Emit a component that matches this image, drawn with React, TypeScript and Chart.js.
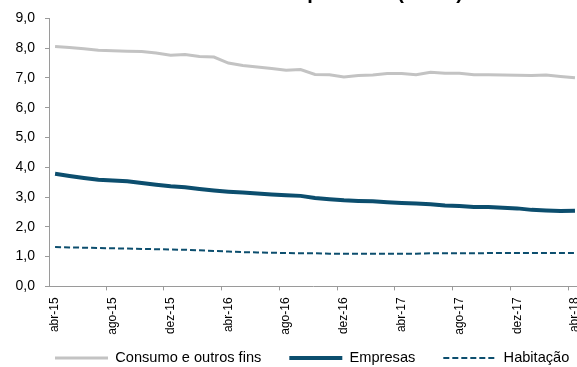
import React, { useEffect, useRef } from 'react';
import { Chart, registerables } from 'chart.js';

Chart.register(...registerables);

const TITLE = 'Taxas médias de empréstimo (em %)';

const months = [
  'abr-15', 'mai-15', 'jun-15', 'jul-15', 'ago-15', 'set-15', 'out-15', 'nov-15', 'dez-15', 'jan-16', 'fev-16', 'mar-16',
  'abr-16', 'mai-16', 'jun-16', 'jul-16', 'ago-16', 'set-16', 'out-16', 'nov-16', 'dez-16', 'jan-17', 'fev-17', 'mar-17',
  'abr-17', 'mai-17', 'jun-17', 'jul-17', 'ago-17', 'set-17', 'out-17', 'nov-17', 'dez-17', 'jan-18', 'fev-18', 'mar-18',
  'abr-18',
];

const consumo = [
  8.06, 8.02, 7.98, 7.93, 7.91, 7.90, 7.89, 7.84, 7.76, 7.79, 7.72, 7.70,
  7.50, 7.42, 7.37, 7.32, 7.26, 7.28, 7.12, 7.11, 7.03, 7.08, 7.10, 7.15,
  7.15, 7.11, 7.19, 7.16, 7.16, 7.11, 7.11, 7.10, 7.09, 7.08, 7.10, 7.05,
  7.01,
];

const empresas = [
  3.78, 3.71, 3.64, 3.58, 3.56, 3.53, 3.47, 3.41, 3.36, 3.33, 3.27, 3.22,
  3.18, 3.15, 3.12, 3.09, 3.06, 3.04, 2.97, 2.93, 2.89, 2.87, 2.86, 2.83,
  2.80, 2.78, 2.76, 2.72, 2.70, 2.67, 2.67, 2.64, 2.62, 2.57, 2.55, 2.53,
  2.54,
];

const habitacao = [
  1.32, 1.31, 1.30, 1.29, 1.28, 1.27, 1.26, 1.25, 1.24, 1.23, 1.21, 1.19,
  1.17, 1.15, 1.14, 1.13, 1.12, 1.11, 1.11, 1.10, 1.10, 1.10, 1.10, 1.10,
  1.10, 1.10, 1.11, 1.11, 1.11, 1.11, 1.12, 1.12, 1.12, 1.12, 1.12, 1.12,
  1.12,
];

const seriesNames = ['Consumo e outros fins', 'Empresas', 'Habitação'];
const yTicks = [0, 1, 2, 3, 4, 5, 6, 7, 8, 9];
const labelEvery = 4;

const FONT = "'Liberation Sans', Arial, Helvetica, sans-serif";
const AXIS = '#9a9a9a';
const GREY = '#c3c3c3';
const BLUE = '#0c4e6e';

const labelIdx = months.map((_, i) => i).filter((i) => i % labelEvery === 0);

export default function App() {
  const ref = useRef<HTMLCanvasElement | null>(null);

  useEffect(() => {
    document.body.style.margin = '0';
    const canvas = ref.current;
    if (!canvas) return;

    const toPts = (arr: number[]) => arr.map((v, i) => ({ x: i, y: v }));

    const tickMarks = {
      id: 'tickMarks',
      afterDraw(chart: any) {
        const xs = chart.scales.x;
        const ctx = chart.ctx;
        ctx.save();
        ctx.strokeStyle = AXIS;
        ctx.lineWidth = 1;
        labelIdx.filter((i) => i > 0).forEach((i) => {
          const px = Math.round(xs.getPixelForValue(i - 0.5)) + 0.5;
          ctx.beginPath();
          ctx.moveTo(px, xs.top);
          ctx.lineTo(px, xs.top + 4);
          ctx.stroke();
        });
        ctx.restore();
      },
    };

    const titlePlugin = {
      id: 'cutTitle',
      afterDraw(chart: any) {
        const ctx = chart.ctx;
        ctx.save();
        ctx.font = `bold 20px ${FONT}`;
        ctx.fillStyle = '#000';
        ctx.textAlign = 'center';
        ctx.textBaseline = 'alphabetic';
        ctx.fillText(TITLE, chart.width / 2, -1);
        ctx.restore();
      },
    };

    const legendPlace = {
      id: 'legendPlace',
      afterLayout(chart: any) {
        const lg = chart.legend;
        if (!lg || !lg.lineWidths) return;
        const pad = lg.options.labels.padding;
        const fs = lg.options.labels.font.size;
        const cur = (lg.left + pad + lg.right - lg.lineWidths[0]) / 2;
        const dx = 55 - cur;
        lg.left += dx;
        lg.right += dx;
        const dy = 358 - pad - fs / 2 - lg.top;
        lg.top += dy;
        lg.bottom += dy;
      },
    };

    const chart = new Chart(canvas, {
      type: 'line',
      data: {
        datasets: [
          {
            label: seriesNames[0],
            data: toPts(consumo),
            borderColor: GREY,
            backgroundColor: GREY,
            borderWidth: 3,
            pointRadius: 0,
            tension: 0,
          },
          {
            label: seriesNames[1],
            data: toPts(empresas),
            borderColor: BLUE,
            backgroundColor: BLUE,
            borderWidth: 4,
            pointRadius: 0,
            tension: 0,
          },
          {
            label: seriesNames[2],
            data: toPts(habitacao),
            borderColor: BLUE,
            backgroundColor: BLUE,
            borderWidth: 2,
            borderDash: [6, 3],
            pointRadius: 0,
            tension: 0,
          },
        ],
      },
      options: {
        animation: false,
        responsive: false,
        devicePixelRatio: 1,
        layout: { padding: { top: 16, left: 0, right: 0, bottom: -32 } },
        font: { family: FONT },
        scales: {
          x: {
            type: 'linear',
            min: -0.42,
            max: 36.14,
            grid: { display: false, drawTicks: false },
            border: { display: true, color: AXIS, width: 1 },
            afterBuildTicks: (scale: any) => {
              scale.ticks = labelIdx.map((v) => ({ value: v }));
            },
            afterFit: (scale: any) => {
              scale.height = 60;
              scale.paddingLeft = 0;
              scale.paddingRight = 0;
            },
            ticks: {
              autoSkip: false,
              minRotation: 90,
              maxRotation: 90,
              padding: 11,
              color: '#000',
              font: { family: FONT, size: 12 },
              callback: (v: any) => months[v] ?? '',
            },
          },
          y: {
            min: 0,
            max: 9,
            afterBuildTicks: (scale: any) => {
              scale.ticks = yTicks.map((v) => ({ value: v }));
            },
            afterFit: (scale: any) => {
              scale.width = 49;
            },
            grid: { drawOnChartArea: false, drawTicks: true, tickLength: 4, color: AXIS },
            border: { display: true, color: AXIS, width: 1 },
            ticks: {
              padding: 10,
              color: '#000',
              font: { family: FONT, size: 14 },
              callback: (v: any) => Number(v).toFixed(1).replace('.', ','),
            },
          },
        },
        plugins: {
          title: { display: false },
          tooltip: { enabled: false },
          legend: {
            display: true,
            position: 'bottom',
            labels: {
              usePointStyle: true,
              pointStyle: 'line',
              pointStyleWidth: 53,
              padding: 28,
              color: '#000',
              font: { family: FONT, size: 14.6 },
              generateLabels: (chart: any) => {
                const base = Chart.defaults.plugins.legend.labels.generateLabels(chart);
                return base.map((item: any) => {
                  const ds = chart.data.datasets[item.datasetIndex];
                  return {
                    ...item,
                    lineWidth: ds.borderWidth,
                    lineDash: ds.borderDash || [],
                    strokeStyle: ds.borderColor,
                  };
                });
              },
            },
          },
        },
      } as any,
      plugins: [tickMarks, titlePlugin, legendPlace],
    });

    return () => chart.destroy();
  }, []);

  return (
    <div style={{ width: 577, height: 367 }}>
      <canvas ref={ref} width={577} height={367} style={{ display: 'block' }} />
    </div>
  );
}
